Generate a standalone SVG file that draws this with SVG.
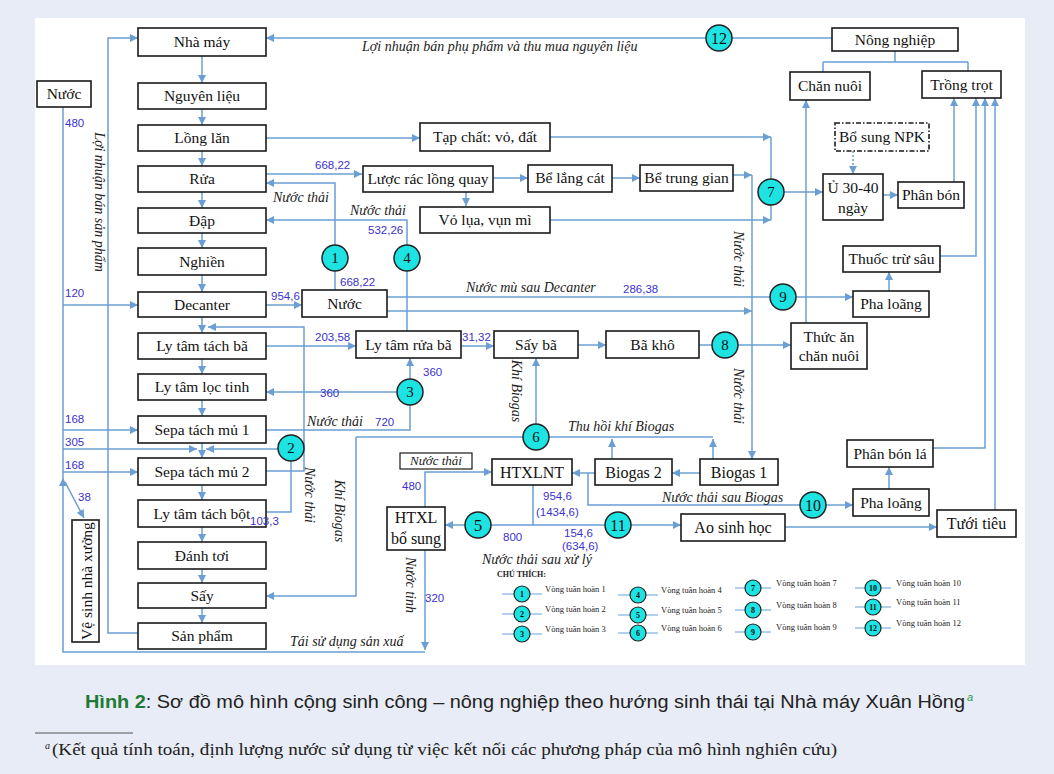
<svg xmlns="http://www.w3.org/2000/svg" width="1054" height="774" viewBox="0 0 1054 774">
<style>
.b{fill:#fff;stroke:#1a1a1a;stroke-width:1.6}
.t{font-family:"Liberation Serif",serif;font-size:15.5px;fill:#111;text-anchor:middle}
.c{fill:#1ee3e3;stroke:#222;stroke-width:1.5}
.ct{font-family:"Liberation Serif",serif;font-size:15px;fill:#111;text-anchor:middle}
.l{fill:none;stroke:#6b9fd3;stroke-width:1.5}
.n{font-family:"Liberation Sans",sans-serif;font-size:11.5px;fill:#3a32cc}
.i{font-family:"Liberation Serif",serif;font-style:italic;font-size:14px;fill:#222}
.r{dominant-baseline:central;text-anchor:middle}
.lg{font-family:"Liberation Serif",serif;font-size:8.5px;fill:#222}
.lc{fill:#1ee3e3;stroke:#222;stroke-width:1.2}
.lct{font-family:"Liberation Serif",serif;font-size:8px;font-weight:bold;fill:#111;text-anchor:middle}
.ll{stroke:#6b9fd3;stroke-width:1.2}
</style>
<defs>
<marker id="a" viewBox="0 0 10 10" refX="10" refY="5" markerWidth="9" markerHeight="8" orient="auto" markerUnits="userSpaceOnUse">
<path d="M0,0 L10,5 L0,10 z" fill="#6b9fd3"/>
</marker>
</defs>
<rect x="0" y="0" width="1054" height="774" fill="#e8ecf6"/>
<rect x="35" y="18" width="990" height="647" fill="#fff"/>

<g id="connectors">
<g class="l" marker-end="url(#a)">
<path d="M202,56V83"/><path d="M202,109V125"/><path d="M202,151V166"/><path d="M202,192V208"/>
<path d="M202,233V248"/><path d="M202,275V292"/><path d="M202,317V333"/><path d="M202,359V374"/>
<path d="M202,400V416"/><path d="M202,443V458"/><path d="M202,485V500"/><path d="M202,527V542"/>
<path d="M202,569V583"/><path d="M202,608V623"/>
<path d="M63,305H138"/><path d="M63,430H138"/><path d="M63,449H197"/><path d="M63,472H138"/>
<path d="M65,482L84,518"/>
<path d="M425,652H63V478"/>
<path d="M138,633H108V38H138"/>
<path d="M832,38H266"/>
<path d="M266,174H362"/>
<path d="M335,290V183H266"/>
<path d="M407,331V220H266"/>
<path d="M266,138H420"/>
<path d="M550,137H771"/>
<path d="M493,178H528"/><path d="M612,178H640"/>
<path d="M466,192V206"/>
<path d="M550,220H771"/>
<path d="M733,175H752"/>
<path d="M752,175V459"/>
<path d="M784,192H823"/>
<path d="M883,195H898"/>
<path d="M954,182V98"/>
<path d="M806,323V100"/>
<path d="M738,345H791"/>
<path d="M266,305H302"/>
<path d="M796,297H853"/>
<path d="M387,311H752"/>
<path d="M889,291V272"/>
<path d="M940,256H976V98"/>
<path d="M933,448H985V98"/>
<path d="M995,510V98"/>
<path d="M889,489V467"/>
<path d="M826,505H853"/>
<path d="M595,473H572"/>
<path d="M700,473H672"/>
<path d="M713,459V439"/>
<path d="M612,459V439"/>
<path d="M536,424V358"/>
<path d="M356,437V596H266"/>
<path d="M266,346H356"/>
<path d="M461,346H494"/>
<path d="M578,345H606"/>
<path d="M398,392H266"/>
<path d="M410,380V358"/>
<path d="M266,471H304V327H208"/>
<path d="M279,449H206"/>
<path d="M465,525H445"/>
<path d="M631,525H681"/>
<path d="M425,507V472H492"/>
<path d="M785,527H937"/>
<path d="M425,550V650"/>
</g>
<path class="l" d="M853,151V174" stroke-dasharray="2,2" marker-end="url(#a)"/>
<g class="l">
<path d="M63,107V478"/>
<path d="M771,137V179"/><path d="M771,220V205"/>
<path d="M895,51V62M823,62H968M823,62V72M968,62V71"/>
<path d="M699,345H712"/>
<path d="M387,297H770"/>
<path d="M588,473V505H800"/>
<path d="M356,437H713"/>
<path d="M266,430H410V405"/>
<path d="M266,512H291V461"/>
<path d="M533,485V525M491,525H605"/>
</g>
</g>

<g id="nha-may"><rect class="b" x="138" y="28" width="128" height="28"/><text class="t" x="202" y="47">Nhà máy</text></g>
<g id="nguyen-lieu"><rect class="b" x="138" y="83" width="128" height="26"/><text class="t" x="202" y="101">Nguyên liệu</text></g>
<g id="long-lan"><rect class="b" x="138" y="125" width="128" height="26"/><text class="t" x="202" y="143">Lồng lăn</text></g>
<g id="rua"><rect class="b" x="138" y="166" width="128" height="26"/><text class="t" x="202" y="184">Rửa</text></g>
<g id="dap"><rect class="b" x="138" y="208" width="128" height="25"/><text class="t" x="202" y="226">Đập</text></g>
<g id="nghien"><rect class="b" x="138" y="248" width="128" height="27"/><text class="t" x="202" y="267">Nghiền</text></g>
<g id="decanter"><rect class="b" x="138" y="292" width="128" height="25"/><text class="t" x="202" y="310">Decanter</text></g>
<g id="ly-tam-tach-ba"><rect class="b" x="138" y="333" width="128" height="26"/><text class="t" x="202" y="351">Ly tâm tách bã</text></g>
<g id="ly-tam-loc-tinh"><rect class="b" x="138" y="374" width="128" height="26"/><text class="t" x="202" y="392">Ly tâm lọc tinh</text></g>
<g id="sepa-1"><rect class="b" x="138" y="416" width="128" height="27"/><text class="t" x="202" y="435">Sepa tách mủ 1</text></g>
<g id="sepa-2"><rect class="b" x="138" y="458" width="128" height="27"/><text class="t" x="202" y="477">Sepa tách mủ 2</text></g>
<g id="ly-tam-tach-bot"><rect class="b" x="138" y="500" width="128" height="27"/><text class="t" x="202" y="519">Ly tâm tách bột</text></g>
<g id="danh-toi"><rect class="b" x="138" y="542" width="128" height="27"/><text class="t" x="202" y="561">Đánh tơi</text></g>
<g id="say"><rect class="b" x="138" y="583" width="128" height="25"/><text class="t" x="202" y="601">Sấy</text></g>
<g id="san-pham"><rect class="b" x="138" y="623" width="128" height="26"/><text class="t" x="202" y="641">Sản phẩm</text></g>

<g id="nuoc-left"><rect class="b" x="37" y="81" width="54" height="26"/><text class="t" x="64" y="99">Nước</text></g>
<g id="ve-sinh"><rect class="b" x="72" y="520" width="27" height="122"/><text class="t r" x="86" y="581" transform="rotate(-90 86 581)">Vệ sinh nhà xưởng</text></g>
<g id="tap-chat"><rect class="b" x="420" y="123" width="130" height="28"/><text class="t" x="485" y="142">Tạp chất: vỏ, đất</text></g>
<g id="luoc-rac"><rect class="b" x="363" y="166" width="130" height="26"/><text class="t" x="428" y="184">Lược rác lồng quay</text></g>
<g id="be-lang-cat"><rect class="b" x="528" y="165" width="84" height="27"/><text class="t" x="570" y="183">Bể lắng cát</text></g>
<g id="be-trung-gian"><rect class="b" x="640" y="165" width="93" height="26"/><text class="t" x="686.5" y="183">Bể trung gian</text></g>
<g id="vo-lua"><rect class="b" x="420" y="207" width="130" height="26"/><text class="t" x="485" y="225">Vỏ lụa, vụn mì</text></g>
<g id="nuoc-mid"><rect class="b" x="302" y="290" width="85" height="27"/><text class="t" x="344.5" y="309">Nước</text></g>
<g id="ly-tam-rua-ba"><rect class="b" x="356" y="331" width="105" height="27"/><text class="t" x="408.5" y="350">Ly tâm rửa bã</text></g>
<g id="say-ba"><rect class="b" x="494" y="331" width="84" height="27"/><text class="t" x="536" y="350">Sấy bã</text></g>
<g id="ba-kho"><rect class="b" x="606" y="331" width="93" height="27"/><text class="t" x="652.5" y="350">Bã khô</text></g>
<g id="nong-nghiep"><rect class="b" x="832" y="28" width="126" height="23"/><text class="t" x="895" y="45">Nông nghiệp</text></g>
<g id="chan-nuoi"><rect class="b" x="790" y="72" width="80" height="28"/><text class="t" x="830" y="91">Chăn nuôi</text></g>
<g id="trong-trot"><rect class="b" x="922" y="71" width="79" height="27"/><text class="t" x="961.5" y="90">Trồng trọt</text></g>
<g id="bo-sung-npk"><rect class="b" x="835" y="123" width="94" height="28" stroke-dasharray="5,2,1.5,2"/><text class="t" x="882" y="142">Bổ sung NPK</text></g>
<g id="u-30-40"><rect class="b" x="823" y="174" width="60" height="46"/><text class="t" x="853" y="193">Ủ 30-40</text><text class="t" x="853" y="213">ngày</text></g>
<g id="phan-bon"><rect class="b" x="898" y="182" width="66" height="26"/><text class="t" x="931" y="200">Phân bón</text></g>
<g id="thuoc-tru-sau"><rect class="b" x="843" y="246" width="97" height="26"/><text class="t" x="891.5" y="264">Thuốc trừ sâu</text></g>
<g id="pha-loang-1"><rect class="b" x="853" y="291" width="76" height="26"/><text class="t" x="891" y="309">Pha loãng</text></g>
<g id="thuc-an"><rect class="b" x="791" y="323" width="76" height="46"/><text class="t" x="829" y="342">Thức ăn</text><text class="t" x="829" y="361">chăn nuôi</text></g>
<g id="phan-bon-la"><rect class="b" x="847" y="440" width="86" height="27"/><text class="t" x="890" y="459">Phân bón lá</text></g>
<g id="pha-loang-2"><rect class="b" x="853" y="489" width="76" height="27"/><text class="t" x="891" y="508">Pha loãng</text></g>
<g id="htxlnt"><rect class="b" x="492" y="459" width="80" height="26"/><text class="t" x="532" y="478" style="font-size:16px">HTXLNT</text></g>
<g id="biogas-2"><rect class="b" x="595" y="459" width="77" height="26"/><text class="t" x="633.5" y="478" style="font-size:16px">Biogas 2</text></g>
<g id="biogas-1"><rect class="b" x="700" y="459" width="78" height="26"/><text class="t" x="739" y="478" style="font-size:16px">Biogas 1</text></g>
<g id="htxl-bo-sung"><rect class="b" x="387" y="507" width="58" height="43"/><text class="t" x="416" y="523" style="font-size:16px">HTXL</text><text class="t" x="416" y="544" style="font-size:16px">bổ sung</text></g>
<g id="ao-sinh-hoc"><rect class="b" x="681" y="514" width="104" height="27"/><text class="t" x="733" y="533" style="font-size:16px">Ao sinh học</text></g>
<g id="tuoi-tieu"><rect class="b" x="937" y="510" width="79" height="27"/><text class="t" x="976.5" y="529" style="font-size:16px">Tưới tiêu</text></g>
<g id="nuoc-thai-box"><rect class="b" x="400" y="453" width="72" height="16" style="stroke-width:1.2"/><text class="i" x="436" y="465" text-anchor="middle" style="font-size:13px">Nước thải</text></g>

<g id="circle-1"><circle class="c" cx="335" cy="258" r="13"/><text class="ct" x="335" y="263">1</text></g>
<g id="circle-2"><circle class="c" cx="291" cy="448" r="13"/><text class="ct" x="291" y="453">2</text></g>
<g id="circle-3"><circle class="c" cx="410" cy="392" r="13"/><text class="ct" x="410" y="397">3</text></g>
<g id="circle-4"><circle class="c" cx="407" cy="258" r="13"/><text class="ct" x="407" y="263">4</text></g>
<g id="circle-5"><circle class="c" cx="478" cy="525" r="13"/><text class="ct" x="478" y="531" style="font-size:17px">5</text></g>
<g id="circle-6"><circle class="c" cx="536" cy="437" r="13"/><text class="ct" x="536" y="442">6</text></g>
<g id="circle-7"><circle class="c" cx="771" cy="192" r="13"/><text class="ct" x="771" y="197">7</text></g>
<g id="circle-8"><circle class="c" cx="725" cy="345" r="13"/><text class="ct" x="725" y="350">8</text></g>
<g id="circle-9"><circle class="c" cx="783" cy="297" r="13"/><text class="ct" x="783" y="302">9</text></g>
<g id="circle-10"><circle class="c" cx="813" cy="505" r="13"/><text class="ct" x="813" y="511" style="font-size:16px">10</text></g>
<g id="circle-11"><circle class="c" cx="618" cy="525" r="13"/><text class="ct" x="618" y="531" style="font-size:16px">11</text></g>
<g id="circle-12"><circle class="c" cx="719" cy="38" r="13"/><text class="ct" x="719" y="44" style="font-size:16px">12</text></g>

<g id="labels">
<text class="n" x="65" y="127">480</text>
<text class="n" x="65" y="297">120</text>
<text class="n" x="65" y="423">168</text>
<text class="n" x="65" y="446">305</text>
<text class="n" x="65" y="469">168</text>
<text class="n" x="78" y="501">38</text>
<text class="n" x="315" y="169">668,22</text>
<text class="n" x="368" y="234">532,26</text>
<text class="n" x="340" y="286">668,22</text>
<text class="n" x="271" y="300">954,6</text>
<text class="n" x="315" y="341">203,58</text>
<text class="n" x="462" y="341">31,32</text>
<text class="n" x="320" y="397">360</text>
<text class="n" x="423" y="376">360</text>
<text class="n" x="375" y="426">720</text>
<text class="n" x="250" y="525">103,3</text>
<text class="n" x="623" y="293">286,38</text>
<text class="n" x="543" y="500">954,6</text>
<text class="n" x="536" y="516">(1434,6)</text>
<text class="n" x="503" y="541">800</text>
<text class="n" x="564" y="537">154,6</text>
<text class="n" x="562" y="550">(634,6)</text>
<text class="n" x="402" y="490">480</text>
<text class="n" x="425" y="602">320</text>
<text class="i" x="362" y="51">Lợi nhuận bán phụ phẩm và thu mua nguyên liệu</text>
<text class="i" x="273" y="202">Nước thải</text>
<text class="i" x="350" y="215">Nước thải</text>
<text class="i" x="307" y="426">Nước thải</text>
<text class="i" x="466" y="292">Nước mù sau Decanter</text>
<text class="i" x="568" y="431">Thu hồi khí Biogas</text>
<text class="i" x="662" y="502">Nước thải sau Biogas</text>
<text class="i" x="482" y="564">Nước thải sau xử lý</text>
<text class="i" x="290" y="646">Tái sử dụng sản xuấ</text>
<text class="i r" x="99" y="202" transform="rotate(90 99 202)">Lợi nhuận bán sản phẩm</text>
<text class="i r" x="738" y="259" transform="rotate(90 738 259)">Nước thải</text>
<text class="i r" x="738" y="396" transform="rotate(90 738 396)">Nước thải</text>
<text class="i r" x="516" y="391" transform="rotate(90 516 391)">Khí Biogas</text>
<text class="i r" x="339" y="511" transform="rotate(90 339 511)">Khí Biogas</text>
<text class="i r" x="309" y="495" transform="rotate(90 309 495)">Nước thải</text>
<text class="i r" x="410" y="585" transform="rotate(90 410 585)">Nước tinh</text>
</g>

<g id="legend">
<text class="lg" x="497" y="577" style="font-weight:bold;font-size:8px">CHÚ THÍCH:</text>
<g class="ll">
<path d="M502,594H542M502,614H542M502,634H542"/>
<path d="M618,595H658M618,615H658M618,633H658"/>
<path d="M735,588H771M735,610H771M735,632H771"/>
<path d="M855,588H891M855,607H891M855,628H891"/>
</g>
<circle class="lc" cx="522" cy="594" r="8"/><text class="lct" x="522" y="597">1</text>
<circle class="lc" cx="522" cy="614" r="8"/><text class="lct" x="522" y="617">2</text>
<circle class="lc" cx="522" cy="634" r="8"/><text class="lct" x="522" y="637">3</text>
<circle class="lc" cx="638" cy="595" r="8"/><text class="lct" x="638" y="598">4</text>
<circle class="lc" cx="638" cy="615" r="8"/><text class="lct" x="638" y="618">5</text>
<circle class="lc" cx="638" cy="633" r="8"/><text class="lct" x="638" y="636">6</text>
<circle class="lc" cx="753" cy="588" r="8"/><text class="lct" x="753" y="591">7</text>
<circle class="lc" cx="753" cy="610" r="8"/><text class="lct" x="753" y="613">8</text>
<circle class="lc" cx="753" cy="632" r="8"/><text class="lct" x="753" y="635">9</text>
<circle class="lc" cx="873" cy="588" r="8"/><text class="lct" x="873" y="591">10</text>
<circle class="lc" cx="873" cy="607" r="8"/><text class="lct" x="873" y="610">11</text>
<circle class="lc" cx="873" cy="628" r="8"/><text class="lct" x="873" y="631">12</text>
<text class="lg" x="545" y="592">Vòng tuần hoàn 1</text>
<text class="lg" x="545" y="612">Vòng tuần hoàn 2</text>
<text class="lg" x="545" y="632">Vòng tuần hoàn 3</text>
<text class="lg" x="661" y="593">Vòng tuần hoàn 4</text>
<text class="lg" x="661" y="613">Vòng tuần hoàn 5</text>
<text class="lg" x="661" y="631">Vòng tuần hoàn 6</text>
<text class="lg" x="776" y="586">Vòng tuần hoàn 7</text>
<text class="lg" x="776" y="608">Vòng tuần hoàn 8</text>
<text class="lg" x="776" y="630">Vòng tuần hoàn 9</text>
<text class="lg" x="896" y="586">Vòng tuần hoàn 10</text>
<text class="lg" x="896" y="605">Vòng tuần hoàn 11</text>
<text class="lg" x="896" y="626">Vòng tuần hoàn 12</text>
</g>

<g id="caption">
<text x="85" y="708" textLength="880" lengthAdjust="spacingAndGlyphs" style="font-family:'Liberation Sans',sans-serif;font-size:18px;fill:#222"><tspan fill="#1e7a34" font-weight="bold">Hình 2</tspan>: Sơ đồ mô hình cộng sinh công – nông nghiệp theo hướng sinh thái tại Nhà máy Xuân Hồng</text>
<text x="967" y="701" style="font-family:'Liberation Sans',sans-serif;font-style:italic;font-size:11px;fill:#2a9a4a">a</text>
<line x1="35" y1="733" x2="133" y2="733" stroke="#555" stroke-width="1"/>
<text x="45" y="749" style="font-family:'Liberation Serif',serif;font-style:italic;font-size:10px;fill:#222">a</text>
<text x="52" y="755" textLength="785" lengthAdjust="spacingAndGlyphs" style="font-family:'Liberation Serif',serif;font-size:17.5px;fill:#222">(Kết quả tính toán, định lượng nước sử dụng từ việc kết nối các phương pháp của mô hình nghiên cứu)</text>
</g>
</svg>
